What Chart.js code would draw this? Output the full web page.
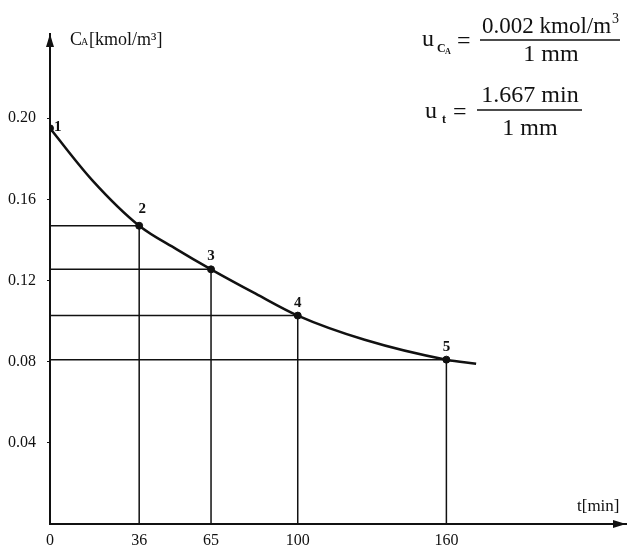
<!DOCTYPE html>
<html>
<head>
<meta charset="utf-8">
<script src="https://cdn.jsdelivr.net/npm/chart.js@4"></script>
<style>
  html, body { margin: 0; padding: 0; background: #fff; }
</style>
</head>
<body>
<canvas id="myChart" width="631" height="545"></canvas>
<script>
// measured points: t [min] and C_A [kmol/m3]
const pointNames = ["1", "2", "3", "4", "5"];
const tValues = [0, 36, 65, 100, 160];
const cValues = [0.195, 0.147, 0.1255, 0.1027, 0.081];
// the drawn curve (runs a little past point 5)
const curveT = [0, 17, 36, 51, 65, 83, 100, 127, 160, 172];
const curveC = [0.195, 0.1695, 0.147, 0.1355, 0.1255, 0.1135, 0.1027, 0.0908, 0.081, 0.079];
// axis ticks
const xTicks = [0, 36, 65, 100, 160];
const yTicks = [0.04, 0.08, 0.12, 0.16, 0.2];

const ink = "#111";
const serif = '"Liberation Serif", "Times New Roman", serif';

// guide lines: from the C axis across to the point, then down to the t axis
const guideSets = [];
tValues.forEach((t, i) => {
  if (t === 0) return;
  guideSets.push({
    type: "line",
    data: [{ x: 0, y: cValues[i] }, { x: t, y: cValues[i] }, { x: t, y: 0 }],
    borderColor: ink,
    borderWidth: 1.5,
    pointRadius: 0,
    tension: 0,
  });
});

// arrows, axis titles, point numbers and the scale formulas
const extras = {
  id: "extras",
  afterDraw(chart) {
    const { ctx, chartArea, scales } = chart;
    const x0 = chartArea.left;
    const y0 = chartArea.bottom;
    ctx.save();
    ctx.fillStyle = ink;
    ctx.strokeStyle = ink;

    // arrow heads
    ctx.beginPath();
    ctx.moveTo(x0, chartArea.top);
    ctx.lineTo(x0 - 4, chartArea.top + 13);
    ctx.lineTo(x0 + 4, chartArea.top + 13);
    ctx.closePath();
    ctx.fill();
    ctx.beginPath();
    ctx.moveTo(chartArea.right, y0);
    ctx.lineTo(chartArea.right - 13, y0 - 4);
    ctx.lineTo(chartArea.right - 13, y0 + 4);
    ctx.closePath();
    ctx.fill();

    // axis titles
    ctx.textAlign = "left";
    ctx.textBaseline = "alphabetic";
    ctx.font = "18px " + serif;
    ctx.fillText("C", 70, 45);
    ctx.font = "10px " + serif;
    ctx.fillText("A", 81, 45);
    ctx.font = "18px " + serif;
    ctx.fillText("[kmol/m³]", 89, 45);
    ctx.font = "17px " + serif;
    ctx.fillText("t[min]", 577, 511);

    // point numbers
    ctx.font = "bold 15px " + serif;
    tValues.forEach((t, i) => {
      const px = scales.x.getPixelForValue(t);
      const py = scales.y.getPixelForValue(cValues[i]);
      if (i === 0) {
        ctx.textAlign = "left";
        ctx.fillText(pointNames[i], px + 4, py + 3);
      } else {
        ctx.textAlign = "center";
        ctx.fillText(pointNames[i], px + (i === 1 ? 3 : 0), py - (i === 1 ? 13 : 9));
      }
    });

    // scale formulas (top right)
    const big = "24px " + serif;
    ctx.font = big;
    ctx.textAlign = "left";
    ctx.fillText("u", 422, 46);
    ctx.font = "bold 12px " + serif;
    ctx.fillText("C", 437, 52);
    ctx.font = "bold 8px " + serif;
    ctx.fillText("A", 445, 54);
    ctx.font = big;
    ctx.fillText("=", 457, 48);
    ctx.font = "23px " + serif;
    ctx.fillText("0.002 kmol/m", 482, 33);
    ctx.font = "14px " + serif;
    ctx.fillText("3", 612, 23);
    ctx.font = big;
    ctx.textAlign = "center";
    ctx.fillText("1 mm", 551, 61);
    ctx.lineWidth = 1.5;
    ctx.beginPath();
    ctx.moveTo(480, 40);
    ctx.lineTo(620, 40);
    ctx.stroke();

    ctx.textAlign = "left";
    ctx.fillText("u", 425, 118);
    ctx.font = "bold 12px " + serif;
    ctx.fillText("t", 442, 123);
    ctx.font = big;
    ctx.fillText("=", 453, 119);
    ctx.textAlign = "center";
    ctx.fillText("1.667 min", 530, 102);
    ctx.fillText("1 mm", 530, 135);
    ctx.beginPath();
    ctx.moveTo(477, 110);
    ctx.lineTo(582, 110);
    ctx.stroke();

    ctx.restore();
  },
};

const chart = new Chart(document.getElementById("myChart"), {
  type: "scatter",
  data: {
    datasets: [
      {
        type: "line",
        data: curveT.map((t, i) => ({ x: t, y: curveC[i] })),
        borderColor: ink,
        borderWidth: 2.5,
        pointRadius: 0,
        cubicInterpolationMode: "monotone",
      },
      ...guideSets,
      {
        data: tValues.map((t, i) => ({ x: t, y: cValues[i] })),
        backgroundColor: ink,
        borderColor: ink,
        pointRadius: 3.5,
      },
    ],
  },
  options: {
    responsive: false,
    animation: false,
    layout: { padding: { top: 34, right: 1, left: 0, bottom: 0 } },
    plugins: { legend: { display: false }, tooltip: { enabled: false } },
    scales: {
      x: {
        type: "linear",
        min: 0,
        max: 232.5,
        afterBuildTicks: (s) => { s.ticks = xTicks.map((v) => ({ value: v })); },
        afterFit: (s) => { s.height = 21; },
        ticks: {
          color: ink,
          font: { family: serif, size: 16 },
          padding: -1,
          maxRotation: 0,
          autoSkip: false,
        },
        grid: { display: false },
        border: { display: true, color: ink, width: 2 },
      },
      y: {
        min: 0,
        max: 0.2415,
        afterBuildTicks: (s) => { s.ticks = yTicks.map((v) => ({ value: v })); },
        afterFit: (s) => { s.width = 50; },
        ticks: {
          color: ink,
          font: { family: serif, size: 16 },
          padding: 11,
          callback: (v) => v.toFixed(2),
        },
        grid: { display: true, drawOnChartArea: false, tickLength: 3, color: ink },
        border: { display: true, color: ink, width: 2 },
      },
    },
  },
  plugins: [extras],
});
</script>
</body>
</html>
